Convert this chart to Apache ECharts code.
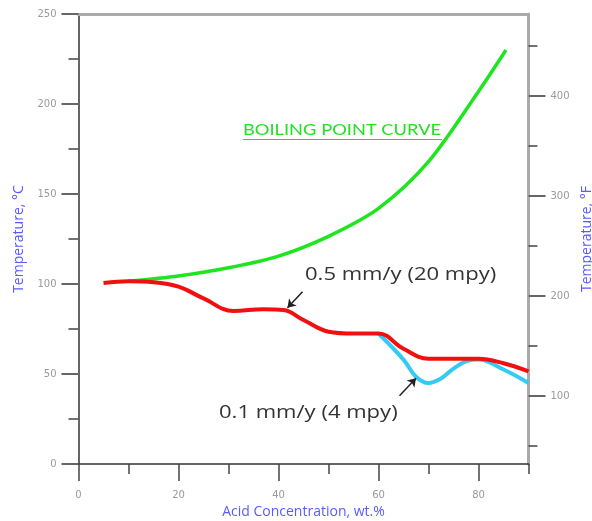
<!DOCTYPE html>
<html>
<head>
<meta charset="utf-8">
<script src="https://cdn.jsdelivr.net/npm/echarts@6/dist/echarts.min.js"></script>
<style>
  html, body { margin: 0; padding: 0; background: #fff; }
  #chart { width: 592px; height: 521px; }
</style>
</head>
<body>
<div id="chart"></div>
<script>
// boiling point curve, deg C vs wt.%
var boilX = [10, 20, 30, 40, 50, 60, 70, 80, 85.5];
var boilY = [101.5, 104.5, 109, 115.5, 126.5, 142, 168, 207, 230];

// iso-corrosion 0.5 mm/y (20 mpy)
var isoHalfX = [5, 10, 15, 20, 25, 31, 37, 41, 45, 50, 55, 60, 65, 70, 75, 80, 85, 90];
var isoHalfY = [100.5, 101.5, 101, 98.5, 92, 85, 86, 85.5, 80, 73.5, 72.5, 72.5, 64, 58.5, 58.5, 58.5, 56, 51.5];

// iso-corrosion 0.1 mm/y (4 mpy), splits from the other one at 60%
var isoTenthX = [60, 65, 67.5, 70, 72.5, 75, 78, 80, 85, 90];
var isoTenthY = [72.5, 58, 48.5, 45, 47.5, 53, 57.5, 58, 52.5, 45];

var xTicks = [0, 20, 40, 60, 80];
var xMinor = [10, 30, 50, 70, 90];
var cMinor = [25, 75, 125, 175, 225];
var fTicks = [100, 200, 300, 400];
var fMinor = [50, 150, 250, 350, 450];

function pairs(xs, ys){
	var out = [];
	for (var i = 0; i < xs.length; i++){
		out.push([xs[i], ys[i]]);
	}
	return out;
}

var chart = echarts.init(document.getElementById('chart'), null, {renderer: 'canvas'});

var lblColor = '#9a9a9a';
var nameStyle = {color: '#5a5aff', fontSize: 14, fontFamily: 'Open Sans'};

function box(){
	return {left: 78.5, right: 63.5, top: 14, bottom: 57, outerBoundsMode: 'none'};
}

var option = {
	animation: false,
	backgroundColor: '#fff',
	grid: [box(), box()],
	xAxis: [
		{
			gridIndex: 0,
			type: 'value',
			min: 0, max: 90, interval: 20,
			name: 'Acid Concentration, wt.%',
			nameLocation: 'middle',
			nameGap: 40,
			nameTextStyle: nameStyle,
			splitLine: {show: false},
			axisLine: {onZero: false, lineStyle: {color: '#333', width: 1.5}},
			axisTick: {customValues: xTicks, length: 17, lineStyle: {color: '#444', width: 1.5}},
			axisLabel: {customValues: xTicks, margin: 26, color: lblColor, fontSize: 10, fontFamily: 'DejaVu Sans'}
		},
		{
			gridIndex: 0,
			type: 'value',
			position: 'top',
			min: 0, max: 90,
			splitLine: {show: false},
			axisLine: {onZero: false, lineStyle: {color: '#aaa', width: 3}},
			axisTick: {show: false},
			axisLabel: {show: false}
		},
		{
			// minor ticks along the bottom
			gridIndex: 1,
			type: 'value',
			position: 'bottom',
			min: 0, max: 90,
			splitLine: {show: false},
			axisLine: {show: false, onZero: false},
			axisTick: {customValues: xMinor, length: 10, lineStyle: {color: '#444', width: 1.5}},
			axisLabel: {show: false}
		}
	],
	yAxis: [
		{
			gridIndex: 0,
			type: 'value',
			position: 'left',
			min: 0, max: 250, interval: 50,
			name: 'Temperature, °C',
			nameLocation: 'middle',
			nameRotate: 90,
			nameGap: 51,
			nameTextStyle: nameStyle,
			splitLine: {show: false},
			axisLine: {onZero: false, lineStyle: {color: '#333', width: 1.5}},
			axisTick: {length: 17, lineStyle: {color: '#666', width: 2}},
			axisLabel: {margin: 22, color: lblColor, fontSize: 10, fontFamily: 'DejaVu Sans'}
		},
		{
			gridIndex: 0,
			type: 'value',
			position: 'right',
			min: 32, max: 482,
			name: 'Temperature, °F',
			nameLocation: 'middle',
			nameRotate: 90,
			nameGap: 50,
			nameTextStyle: nameStyle,
			splitLine: {show: false},
			axisLine: {onZero: false, lineStyle: {color: '#aaa', width: 3}},
			axisTick: {customValues: fTicks, length: 17, lineStyle: {color: '#666', width: 2}},
			axisLabel: {customValues: fTicks, margin: 22, color: lblColor, fontSize: 10, fontFamily: 'DejaVu Sans'}
		},
		{
			// minor ticks on the celsius side
			gridIndex: 1,
			type: 'value',
			position: 'left',
			min: 0, max: 250,
			splitLine: {show: false},
			axisLine: {show: false, onZero: false},
			axisTick: {customValues: cMinor, length: 10, lineStyle: {color: '#444', width: 1.5}},
			axisLabel: {show: false}
		},
		{
			// minor ticks on the fahrenheit side
			gridIndex: 1,
			type: 'value',
			position: 'right',
			min: 32, max: 482,
			splitLine: {show: false},
			axisLine: {show: false, onZero: false},
			axisTick: {customValues: fMinor, length: 9, lineStyle: {color: '#444', width: 1.5}},
			axisLabel: {show: false}
		}
	],
	graphic: [
		{
			type: 'text',
			x: 243, y: 123,
			scaleX: 1.22,
			style: {text: 'BOILING POINT CURVE', fill: '#22e022', font: '15px Lato'}
		},
		{
			type: 'line',
			shape: {x1: 243, y1: 139.5, x2: 442, y2: 139.5},
			style: {stroke: '#22e022', lineWidth: 1}
		},
		{
			type: 'text',
			x: 305, y: 265,
			scaleX: 1.16,
			style: {text: '0.5 mm/y (20 mpy)', fill: '#333', font: '19px "Open Sans"'}
		},
		{
			type: 'text',
			x: 219, y: 403,
			scaleX: 1.16,
			style: {text: '0.1 mm/y (4 mpy)', fill: '#333', font: '19px "Open Sans"'}
		}
	],
	series: [
		{
			name: 'Boiling point',
			type: 'line',
			xAxisIndex: 0, yAxisIndex: 0,
			data: pairs(boilX, boilY),
			smooth: 0.3,
			symbol: 'none',
			lineStyle: {color: '#1ee61e', width: 3.5}
		},
		{
			name: '0.1 mm/y',
			type: 'line',
			xAxisIndex: 0, yAxisIndex: 0,
			data: pairs(isoTenthX, isoTenthY),
			smooth: 0.4,
			symbol: 'none',
			lineStyle: {color: '#33cbf3', width: 4},
			markLine: {
				silent: true,
				symbol: ['none', 'arrow'],
				symbolSize: 8,
				label: {show: false},
				lineStyle: {color: '#222', width: 1.5, type: 'solid'},
				data: [[{coord: [64.2, 37.9]}, {coord: [67.5, 47.6]}]]
			}
		},
		{
			name: '0.5 mm/y',
			type: 'line',
			xAxisIndex: 0, yAxisIndex: 0,
			data: pairs(isoHalfX, isoHalfY),
			smooth: 0.4,
			symbol: 'none',
			lineStyle: {color: '#f01010', width: 4},
			markLine: {
				silent: true,
				symbol: ['none', 'arrow'],
				symbolSize: 8,
				label: {show: false},
				lineStyle: {color: '#222', width: 1.5, type: 'solid'},
				data: [[{coord: [44.8, 95.7]}, {coord: [41.8, 86.8]}]]
			}
		}
	]
};

chart.setOption(option);
</script>
</body>
</html>
